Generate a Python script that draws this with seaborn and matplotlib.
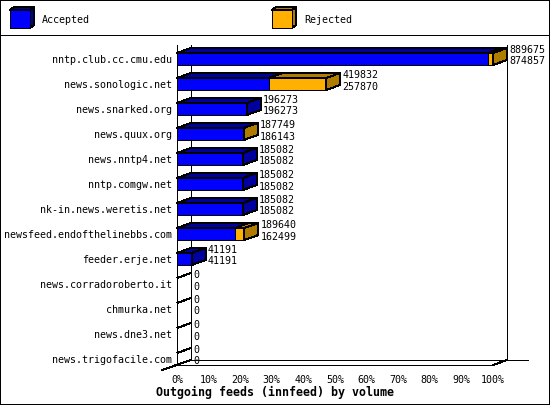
import matplotlib
matplotlib.use("Agg")
import numpy as np
import pandas as pd
import matplotlib.pyplot as plt
from matplotlib.patches import Polygon, Rectangle
import seaborn as sns

# data
hosts = ["nntp.club.cc.cmu.edu", "news.sonologic.net", "news.snarked.org",
         "news.quux.org", "news.nntp4.net", "nntp.comgw.net",
         "nk-in.news.weretis.net", "newsfeed.endofthelinebbs.com",
         "feeder.erje.net", "news.corradoroberto.it", "chmurka.net",
         "news.dne3.net", "news.trigofacile.com"]
offered = [889675, 419832, 196273, 187749, 185082, 185082, 185082,
           189640, 41191, 0, 0, 0, 0]
accepted = [874857, 257870, 196273, 186143, 185082, 185082, 185082,
            162499, 41191, 0, 0, 0, 0]
x_ticks = list(range(0, 101, 10))
tick_labels = [f"{t}%" for t in x_ticks]
legend_labels = ["Accepted", "Rejected"]
title = "Outgoing feeds (innfeed) by volume"

BLUE, BLUE_DARK = "#0000ff", "#0000a0"
ORANGE, ORANGE_DARK = "#ffb000", "#b07c00"

# layout in pixels
W, H = 550, 405
X0, X1, Y0, Y1 = 177, 493, 45, 365
DX, DY = 14, 5      # 3d depth offset
STEP, BAR = 25, 12  # px per category, bar thickness
LW = 0.72

sns.set_style("white", {"axes.edgecolor": "black", "text.color": "black",
                        "xtick.color": "black", "ytick.color": "black"})
plt.rcParams["font.family"] = ["DejaVu Sans Mono"]
plt.rcParams["font.size"] = 7.2
# crisp, pixel-like look of the original
plt.rcParams["patch.antialiased"] = False
plt.rcParams["lines.antialiased"] = False

df = pd.DataFrame({"host": hosts, "offered": offered, "accepted": accepted})
peak = df["offered"].max()
df["offered_pct"] = df["offered"] / peak * 100
df["accepted_pct"] = df["accepted"] / peak * 100

fig = plt.figure(figsize=(W / 100, H / 100), dpi=100)
fig.patch.set_edgecolor("black")
fig.patch.set_linewidth(2 * LW)
frame = fig.add_axes([0, 0, 1, 1], zorder=0)
frame.set_xlim(0, W)
frame.set_ylim(H, 0)
frame.axis("off")

ax = fig.add_axes([X0 / W, (H - Y1) / H, (X1 - X0) / W, (Y1 - Y0) / H], zorder=1)
ax.set_facecolor("none")

w = BAR / STEP
sns.barplot(data=df, y="host", x="offered_pct", color=ORANGE, saturation=1,
            width=w, edgecolor="black", linewidth=LW, ax=ax)
sns.barplot(data=df, y="host", x="accepted_pct", color=BLUE, saturation=1,
            width=w, edgecolor="black", linewidth=LW, ax=ax)

n = len(hosts)
ybot = n - 1 + w / 2
ax.set_ylim(ybot, ybot - (Y1 - Y0) / STEP)
ax.set_xlim(0, 100)
ax.set_xlabel("")
ax.set_ylabel("")
ax.set_xticks(x_ticks, tick_labels)
ax.tick_params(axis="x", direction="out", length=6 * 0.72, width=LW, pad=3)
ax.tick_params(axis="y", length=0, pad=3.5)
sns.despine(ax=ax, top=True, right=True)
for s in ["left", "bottom"]:
    ax.spines[s].set_linewidth(LW)

# 3d faces
dx = DX / ((X1 - X0) / 100)
dy = DY / STEP
for i, row in df.iterrows():
    a, t = row["accepted_pct"], row["offered_pct"]
    top, bot = i - w / 2, i + w / 2
    faces = [([(0, top), (a, top), (a + dx, top - dy), (dx, top - dy)], BLUE_DARK)]
    if t > a:
        faces.append(([(a, top), (t, top), (t + dx, top - dy), (a + dx, top - dy)], ORANGE_DARK))
    if t > 0:
        faces.append(([(t, top), (t + dx, top - dy), (t + dx, bot - dy), (t, bot)],
                      ORANGE_DARK if t > a else BLUE_DARK))
    for pts, col in faces:
        ax.add_patch(Polygon(pts, closed=True, facecolor=col, edgecolor="black",
                             linewidth=LW, clip_on=False, zorder=3))
    for val, yoff in [(row["offered"], 9), (row["accepted"], -2.5)]:
        ax.annotate(f"{val}", xy=(t, i), xytext=(DX + 2, yoff),
                    textcoords="offset pixels", ha="left", va="center",
                    annotation_clip=False)

# back wall and floor
line = dict(color="black", linewidth=LW)
frame.plot([X0 + DX, X0 + DX], [Y0, Y1 - DY], **line)
frame.plot([X1 + DX, X1 + DX], [Y0, Y1 - DY], **line)
frame.plot([X0 + DX, X1 + DX + 21], [Y1 - DY, Y1 - DY], **line)
frame.plot([X1, X1 + DX], [Y1, Y1 - DY], **line)
frame.plot([X0 - 15, X0 + DX], [Y1 + 5, Y1 - DY], **line)

# legend
for x, lab, c, cd in [(10, legend_labels[0], BLUE, BLUE_DARK),
                      (272, legend_labels[1], ORANGE, ORANGE_DARK)]:
    frame.add_patch(Polygon([(x, 10), (x + 4, 7), (x + 24, 7), (x + 20, 10)],
                            facecolor=cd, edgecolor="black", linewidth=LW))
    frame.add_patch(Polygon([(x + 20, 10), (x + 24, 7), (x + 24, 25), (x + 20, 28)],
                            facecolor=cd, edgecolor="black", linewidth=LW))
    frame.add_patch(Rectangle((x, 10), 20, 18, facecolor=c, edgecolor="black",
                              linewidth=LW))
    frame.text(x + 32, 20, lab, ha="left", va="center")

frame.plot([0, W], [35, 35], **line)

frame.text(W / 2, 392, title, ha="center", va="center",
           fontweight="bold", fontsize=8.4)

fig.savefig("out.png", dpi=100, edgecolor=fig.get_edgecolor())
